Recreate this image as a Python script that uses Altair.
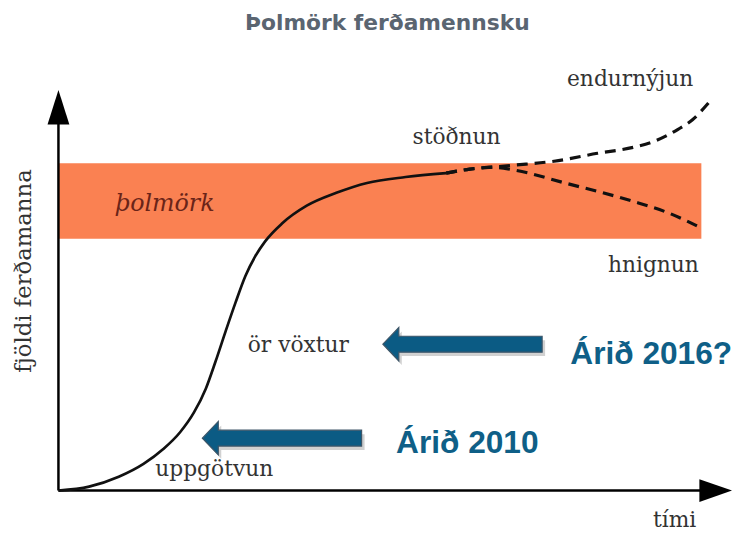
import altair as alt
import pandas as pd

# ---- data (time units t, tourist-number units v) ----
solid_t = [0, 4.77, 9.38, 13.23, 16.31, 18.92, 21.08, 22.92, 24.46, 26.0, 27.54, 29.08, 30.62, 32.15, 34.77, 38.62, 43.23, 48.0, 54.0, 60.31]
solid_v = [0, 1.21, 4.23, 8.16, 12.69, 17.82, 23.87, 31.12, 39.58, 48.64, 57.40, 65.56, 71.60, 76.13, 81.57, 87.01, 90.94, 93.96, 95.77, 96.98]

upper_t = [60.31, 64.0, 67.54, 70.92, 77.08, 83.85, 89.38, 92.62, 96.31, 98.62, 101.2]
upper_v = [96.98, 98.19, 98.79, 99.40, 100.6, 103.02, 104.83, 106.65, 110.27, 113.29, 118.6]

lower_t = [60.31, 64.0, 67.54, 70.92, 78.77, 89.08, 94.77, 99.85]
lower_v = [96.98, 98.19, 98.79, 97.89, 93.96, 88.52, 84.89, 80.36]

band_t = [0, 100]
band_v = [76.9, 100]

stage_labels = ["endurnýjun", "stöðnun", "hnignun", "ör vöxtur", "uppgötvun", "tími"]
stage_t = [88.92, 61.92, 92.54, 37.31, 24.23, 95.85]
stage_v = [123.56, 105.74, 66.77, 42.3, 4.53, -11.18]

ylabel = ["fjöldi ferðamanna"]
ylabel_t = [-5.38]
ylabel_v = [67.07]

band_label = ["þolmörk"]
band_label_t = [16.54]
band_label_v = [85.5]

year_labels = ["Árið 2016?", "Árið 2010"]
year_t = [92.2, 63.6]
year_v = [38.67, 11.48]

arrow_t = [62.85, 34.77]
arrow_v = [44.71, 16.01]

title_text = ["Þolmörk ferðamennsku"]
title_t = [51.15]
title_v = [140.79]

axis_x_t = [0, 100.46]
axis_y_v = [0, 114.2]

# ---- scales ----
XS = alt.Scale(domain=[-7.846, 105.077], nice=False, zero=False)
YS = alt.Scale(domain=[-12.39, 146.53], nice=False, zero=False)

def X(f="t"):
    return alt.X(f"{f}:Q", scale=XS, axis=None)

def Y(f="v"):
    return alt.Y(f"{f}:Q", scale=YS, axis=None)

band_df = pd.DataFrame({"t": [band_t[0]], "t2": [band_t[1]], "v": [band_v[0]], "v2": [band_v[1]]})
band = alt.Chart(band_df).mark_rect(color="#FA8152").encode(
    x=X(), x2="t2:Q", y=Y(), y2="v2:Q")

band_txt = alt.Chart(pd.DataFrame({"label": band_label, "t": band_label_t, "v": band_label_v})).mark_text(
    font="DejaVu Serif", fontStyle="italic", fontSize=24, color="#6a2418", align="center", baseline="alphabetic"
).encode(x=X(), y=Y(), text="label:N")

axis_x = alt.Chart(pd.DataFrame({"t": axis_x_t, "v": [0, 0]})).mark_line(color="black", strokeWidth=2.5).encode(x=X(), y=Y())
axis_y = alt.Chart(pd.DataFrame({"t": [0, 0], "v": axis_y_v})).mark_line(color="black", strokeWidth=2.5).encode(x=X(), y=Y(), order="v:Q")

head_x = alt.Chart(pd.DataFrame({"t": [102.23], "v": [0]})).mark_point(
    shape="M 1 0 L -1 -0.7 L -1 0.7 Z", size=33 * 33, filled=True, color="black", opacity=1
).encode(x=X(), y=Y())
head_y = alt.Chart(pd.DataFrame({"t": [0], "v": [117.07]})).mark_point(
    shape="M 0 -1 L 0.63 1 L -0.63 1 Z", size=35 * 35, filled=True, color="black", opacity=1
).encode(x=X(), y=Y())

solid = alt.Chart(pd.DataFrame({"t": solid_t, "v": solid_v})).mark_line(
    color="#111111", strokeWidth=2.7, interpolate="monotone").encode(x=X(), y=Y())
upper = alt.Chart(pd.DataFrame({"t": upper_t, "v": upper_v})).mark_line(
    color="#111111", strokeWidth=3.2, strokeDash=[11, 7], interpolate="monotone").encode(x=X(), y=Y())
lower = alt.Chart(pd.DataFrame({"t": lower_t, "v": lower_v})).mark_line(
    color="#111111", strokeWidth=3.2, strokeDash=[11, 7], interpolate="monotone").encode(x=X(), y=Y())

stage_txt = alt.Chart(pd.DataFrame({"label": stage_labels, "t": stage_t, "v": stage_v})).mark_text(
    font="DejaVu Serif", fontSize=22, color="#333333", align="center", baseline="alphabetic"
).encode(x=X(), y=Y(), text="label:N")

ylab = alt.Chart(pd.DataFrame({"label": ylabel, "t": ylabel_t, "v": ylabel_v})).mark_text(
    font="DejaVu Serif", fontSize=23, color="#333333", align="center", baseline="middle", angle=270
).encode(x=X(), y=Y(), text="label:N")

arrow_shape = "M -1 0 L -0.8 -0.21 L -0.8 -0.1 L 1 -0.1 L 1 0.1 L -0.8 0.1 L -0.8 0.21 Z"
arrow_df = pd.DataFrame({"t": arrow_t, "v": arrow_v})
arrow_shadow = alt.Chart(arrow_df).mark_point(
    shape=arrow_shape, size=161 * 161, filled=True, color="#9a9a9a", opacity=0.45, xOffset=3, yOffset=4
).encode(x=X(), y=Y())
arrows = alt.Chart(arrow_df).mark_point(
    shape=arrow_shape, size=161 * 161, filled=True, fill="#0b5b84", stroke="#3e5668", strokeWidth=1.2, opacity=1
).encode(x=X(), y=Y())

year_txt = alt.Chart(pd.DataFrame({"label": year_labels, "t": year_t, "v": year_v})).mark_text(
    font="Liberation Sans", fontWeight="bold", fontSize=32, color="#0f5f87", align="center", baseline="alphabetic"
).encode(x=X(), y=Y(), text="label:N")

title = alt.Chart(pd.DataFrame({"label": title_text, "t": title_t, "v": title_v})).mark_text(
    font="DejaVu Sans", fontWeight="bold", fontSize=22, color="#5a6571", align="center", baseline="alphabetic"
).encode(x=X(), y=Y(), text="label:N")

chart = alt.layer(
    band, band_txt, axis_x, axis_y, head_x, head_y, solid, upper, lower,
    stage_txt, ylab, arrow_shadow, arrows, year_txt, title
).properties(
    width=734, height=526, padding=0, background="white",
    autosize=alt.AutoSizeParams(type="none")
).configure_view(stroke=None)

chart.save("out.html", embed_options={"renderer": "svg", "actions": False})
